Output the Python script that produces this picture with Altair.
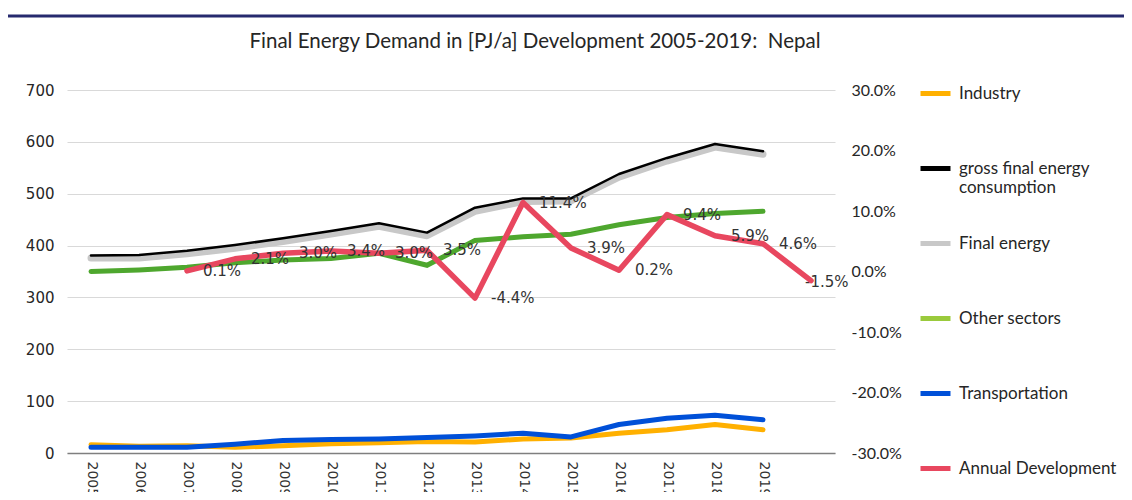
import altair as alt
import pandas as pd

# ---- data ----
years = [str(y) for y in range(2005, 2021)]          # 2020 slot only carries the last growth point
plot_years = years[:15]
industry = [16, 13, 14, 11, 14, 18, 20, 22, 21, 27, 29, 38, 45, 55, 45]
gross_final = [381, 382, 390, 401, 414, 428, 443, 425, 473, 491, 491, 538, 569, 596, 582]
final_energy = [376, 376, 384, 395, 408, 422, 437, 419, 466, 485, 486, 532, 563, 590, 576]
other_sectors = [350, 353, 358, 367, 372, 375, 385, 362, 410, 417, 422, 440, 454, 462, 466]
transportation = [11, 11, 11, 17, 24, 26, 27, 30, 33, 38, 31, 55, 67, 73, 64]
dev_years = years[2:]
annual_dev = [0.1, 2.1, 3.0, 3.4, 3.0, 3.5, -4.4, 11.4, 3.9, 0.2, 9.4, 5.9, 4.6, -1.5]

series_names = ["Industry", "gross final energy consumption", "Final energy",
                "Other sectors", "Transportation", "Annual Development"]
series_colors = ["#FFB000", "#000000", "#C8C8C8", "#9ACA3C", "#0050D8", "#E8475F"]
other_line_color = "#4EA72E"

title_text = "Final Energy Demand in [PJ/a] Development 2005-2019:\u00a0 Nepal"

# ---- tables ----
rows = []
for name, vals in [("Industry", industry), ("gross final energy consumption", gross_final),
                   ("Final energy", final_energy), ("Other sectors", other_sectors),
                   ("Transportation", transportation)]:
    for y, v in zip(plot_years, vals):
        rows.append({"year": y, "series": name, "value": v})
df = pd.DataFrame(rows)
dev = pd.DataFrame({"year": dev_years, "value": annual_dev,
                    "series": "Annual Development"})
dev["label"] = dev["value"].map(lambda v: f"{v:.1f}%")

color_scale = alt.Scale(domain=series_names, range=series_colors)
x_enc = alt.X("year:O", scale=alt.Scale(type="point", domain=years, padding=0.5),
              axis=alt.Axis(title=None, labelAngle=90, labelExpr="datum.value == '2020' ? '' : datum.label",
                            labelFont="DejaVu Sans", labelFontSize=14, labelColor="#333333",
                            ticks=False, labelPadding=8, domainColor="#7f7f7f", domainWidth=1.5,
                            grid=False))
y_left = alt.Scale(domain=[0, 700])
left_axis = alt.Axis(title=None, values=list(range(0, 701, 100)), labelFont="DejaVu Sans",
                     labelFontSize=15, labelColor="#262626", ticks=False, domain=False,
                     labelPadding=13, grid=True, gridColor="#d9d9d9", gridWidth=1)

legend = alt.Legend(title=None, orient="none", legendX=851, legendY=-14,
                    symbolType="stroke", symbolSize=900, symbolStrokeWidth=5,
                    labelFont="Lato", labelFontSize=17, labelColor="#262626",
                    labelOffset=6, rowPadding=30, labelLimit=300, padding=0,
                    labelExpr="datum.label == 'gross final energy consumption' ? ['gross final energy', 'consumption'] : [datum.label, '']")


def series_line(name, width):
    return alt.Chart(df).transform_filter(alt.datum.series == name).mark_line(
        strokeWidth=width, strokeCap="round", strokeJoin="round").encode(
        x=x_enc,
        y=alt.Y("value:Q", scale=y_left, axis=left_axis),
        color=alt.Color("series:N", scale=color_scale, legend=legend),
    )


gray = series_line("Final energy", 7)
black = series_line("gross final energy consumption", 2.5)
green = alt.Chart(df).transform_filter(alt.datum.series == "Other sectors").mark_line(
    strokeWidth=5, strokeCap="round", color=other_line_color).encode(
    x=x_enc, y=alt.Y("value:Q", scale=y_left, axis=left_axis))
orange = series_line("Industry", 5)
blue = series_line("Transportation", 5)

deco = pd.DataFrame({"title": [title_text]})
top_bar = alt.Chart(deco).mark_rule(color="#262A6E", strokeWidth=3).encode(
    x=alt.value(-59), x2=alt.value(1066), y=alt.value(-74))
title_mark = alt.Chart(deco).mark_text(font="Lato", fontSize=20.5, color="#262626",
                                       align="center", baseline="middle").encode(
    x=alt.value(468), y=alt.value(-48), text="title:N")

left = alt.layer(gray, black, green, orange, blue, top_bar, title_mark)

y_right = alt.Scale(domain=[-30, 30])
right_axis = alt.Axis(title=None, orient="right", values=[-30, -20, -10, 0, 10, 20, 30],
                      labelExpr="(datum.value < 0 ? '-' : '') + format(abs(datum.value), '.1f') + '%'",
                      labelFont="Lato", labelFontSize=16, labelColor="#262626", ticks=False,
                      domain=False, grid=False, labelPadding=16)

red_base = alt.Chart(dev)
last_label = red_base.transform_filter(alt.datum.year == "2020").mark_text(
    align="left", baseline="middle", dx=-6, dy=1, font="DejaVu Sans", fontSize=15, color="#333333").encode(
    x=x_enc, y=alt.Y("value:Q", scale=y_right, axis=right_axis), text="label:N")
red_line = red_base.mark_line(strokeWidth=5.5, strokeCap="round", strokeJoin="round").encode(
    x=x_enc, y=alt.Y("value:Q", scale=y_right, axis=right_axis),
    color=alt.Color("series:N", scale=color_scale, legend=legend))
red_labels = red_base.transform_filter(alt.datum.year != "2020").mark_text(
    align="left", baseline="middle", dx=16, font="DejaVu Sans", fontSize=15, color="#333333").encode(
    x=x_enc, y=alt.Y("value:Q", scale=y_right, axis=right_axis), text="label:N")

right = alt.layer(last_label, red_line, red_labels)

chart = alt.layer(left, right).resolve_scale(y="independent").properties(
    width=768, height=363,
    autosize=alt.AutoSizeParams(type="none"),
    padding={"left": 59, "top": 82, "right": 289, "bottom": 39},
).configure(background="white").configure_view(stroke=None)

chart.save("out.html", embed_options={"renderer": "svg", "actions": False})
